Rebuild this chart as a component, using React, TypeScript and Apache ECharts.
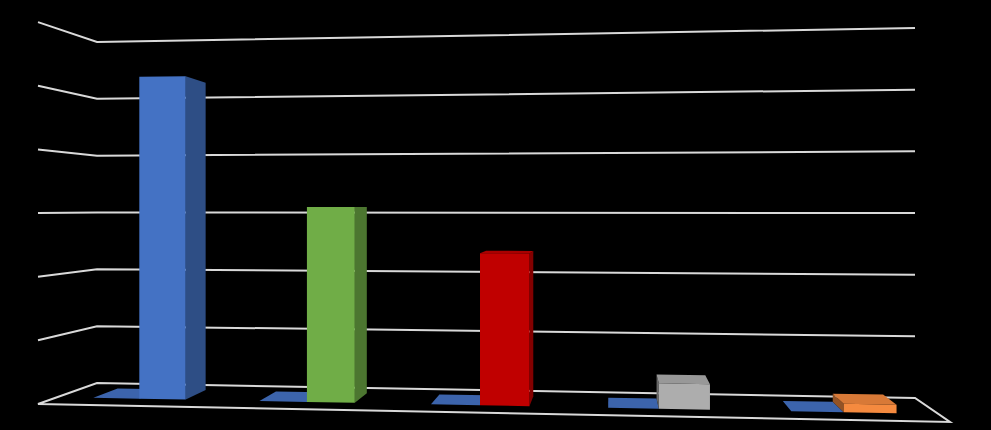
import React, { useEffect, useRef } from "react";
import * as echarts from "echarts";

// ---- data ----
const categories = ["Category 1", "Category 2", "Category 3", "Category 4", "Category 5"];
const seriesAValues = [0, 0, 0, 0, 0];
const seriesBValues = [52, 31, 23.8, 3.9, 1.3];
const seriesAColor = "#4472C4";
const seriesBColors = ["#4472C4", "#70AD47", "#C00000", "#ADADAD", "#F58A3F"];
const yTicks = [0, 10, 20, 30, 40, 50, 60];

// ---- 3D projection constants (layout only) ----
const PERSP = 1.085; // right side closer to the viewer
const BACK_RIGHT_DROP = 15;
const FRONT_LEFT = [-59, 21];
const FRONT_RIGHT = [35, 39];
const H_BR = 1.085;
const H_FL = 1.12;
const H_FR = 1.214;
const D_BACK = 0.23;
const D_FRONT = 0.67;
const BAR_FRAC = 0.28;
const GRID_COLOR = "#D9D9D9";

const lerp = (a: number, b: number, k: number) => a + (b - a) * k;

function project(cs: any, u: number, d: number, t: number): number[] {
  const s = u / (u + PERSP * (1 - u));
  const bx0 = cs.x;
  const bx1 = cs.x + cs.width;
  const by0 = cs.y + cs.height;
  const by1 = by0 + BACK_RIGHT_DROP;
  const fx0 = bx0 + FRONT_LEFT[0];
  const fx1 = bx1 + FRONT_RIGHT[0];
  const fy0 = by0 + FRONT_LEFT[1];
  const fy1 = by0 + FRONT_RIGHT[1];
  const hb0 = cs.height;
  const hb1 = cs.height * H_BR;
  const hf0 = cs.height * H_FL;
  const hf1 = cs.height * H_FR;
  const x = lerp(lerp(bx0, bx1, s), lerp(fx0, fx1, s), d);
  const yb = lerp(lerp(by0, by1, s), lerp(fy0, fy1, s), d);
  const h = lerp(lerp(hb0, hb1, s), lerp(hf0, hf1, s), d);
  return [x, yb - t * h];
}

function shade(hex: string, k: number): string {
  const n = parseInt(hex.slice(1), 16);
  const r = Math.round(((n >> 16) & 255) * k);
  const g = Math.round(((n >> 8) & 255) * k);
  const b = Math.round((n & 255) * k);
  return `rgb(${Math.min(255, r)},${Math.min(255, g)},${Math.min(255, b)})`;
}

function boxRenderer(side: "left" | "right", colorOf: (i: number) => string) {
  return (params: any, api: any) => {
    const cs = params.coordSys;
    const idx = api.value(0);
    const c = api.coord([idx, api.value(1)]);
    const band = api.size([1, 0])[0];
    const uc = (c[0] - cs.x) / cs.width;
    const w = (BAR_FRAC * band) / cs.width;
    const u0 = side === "left" ? uc - w : uc;
    const u1 = side === "left" ? uc : uc + w;
    const t = (cs.y + cs.height - c[1]) / cs.height;
    const base = colorOf(params.dataIndex);
    const P = (u: number, d: number, tt: number) => project(cs, u, d, tt);
    const children: any[] = [];
    // right side
    if (P(u1, D_BACK, 0)[0] > P(u1, D_FRONT, 0)[0] + 0.3) {
      children.push({
        type: "polygon",
        shape: { points: [P(u1, D_FRONT, 0), P(u1, D_BACK, 0), P(u1, D_BACK, t), P(u1, D_FRONT, t)] },
        style: { fill: shade(base, 0.68) },
      });
    }
    // left side
    if (P(u0, D_BACK, 0)[0] < P(u0, D_FRONT, 0)[0] - 0.3) {
      children.push({
        type: "polygon",
        shape: { points: [P(u0, D_FRONT, 0), P(u0, D_BACK, 0), P(u0, D_BACK, t), P(u0, D_FRONT, t)] },
        style: { fill: shade(base, 0.6) },
      });
    }
    // top
    if (P(u0, D_BACK, t)[1] < P(u0, D_FRONT, t)[1]) {
      children.push({
        type: "polygon",
        shape: { points: [P(u0, D_BACK, t), P(u1, D_BACK, t), P(u1, D_FRONT, t), P(u0, D_FRONT, t)] },
        style: { fill: shade(base, 0.88) },
      });
    }
    // front
    if (t > 0) {
      children.push({
        type: "polygon",
        shape: { points: [P(u0, D_FRONT, 0), P(u1, D_FRONT, 0), P(u1, D_FRONT, t), P(u0, D_FRONT, t)] },
        style: { fill: base },
      });
    }
    return { type: "group", children };
  };
}

export default function App() {
  const ref = useRef<HTMLDivElement>(null);
  useEffect(() => {
    if (!ref.current) return;
    const chart = echarts.init(ref.current, undefined, { renderer: "svg" });
    const option: any = {
      animation: false,
      backgroundColor: "#000000",
      grid: { left: 97, right: 76, top: 42, bottom: 47 },
      xAxis: {
        type: "category",
        data: categories,
        show: false,
      },
      yAxis: {
        type: "value",
        min: 0,
        max: yTicks[yTicks.length - 1],
        interval: yTicks[1] - yTicks[0],
        show: false,
      },
      series: [
        {
          type: "custom",
          name: "grid",
          z: 1,
          silent: true,
          data: yTicks.map((v) => [0, v]),
          renderItem: (params: any, api: any) => {
            const cs = params.coordSys;
            const c = api.coord([0, api.value(1)]);
            const t = (cs.y + cs.height - c[1]) / cs.height;
            if (t < 1e-6) {
              return {
                type: "polygon",
                shape: {
                  points: [project(cs, 0, 1, 0), project(cs, 0, 0, 0), project(cs, 1, 0, 0), project(cs, 1, 1, 0)],
                },
                style: { fill: "none", stroke: GRID_COLOR, lineWidth: 2 },
              };
            }
            return {
              type: "polyline",
              shape: { points: [project(cs, 0, 1, t), project(cs, 0, 0, t), project(cs, 1, 0, t)] },
              style: { fill: "none", stroke: GRID_COLOR, lineWidth: 2 },
            };
          },
        },
        {
          type: "custom",
          name: "Series 1",
          z: 2,
          data: seriesAValues.map((v, i) => [i, v]),
          renderItem: boxRenderer("left", () => seriesAColor),
        },
        {
          type: "custom",
          name: "Series 2",
          z: 2,
          data: seriesBValues.map((v, i) => [i, v]),
          renderItem: boxRenderer("right", (i) => seriesBColors[i]),
        },
      ],
    };
    chart.setOption(option);
    return () => chart.dispose();
  }, []);
  return (
    <div
      ref={ref}
      style={{ position: "fixed", left: 0, top: 0, width: 991, height: 430, background: "#000" }}
    />
  );
}
